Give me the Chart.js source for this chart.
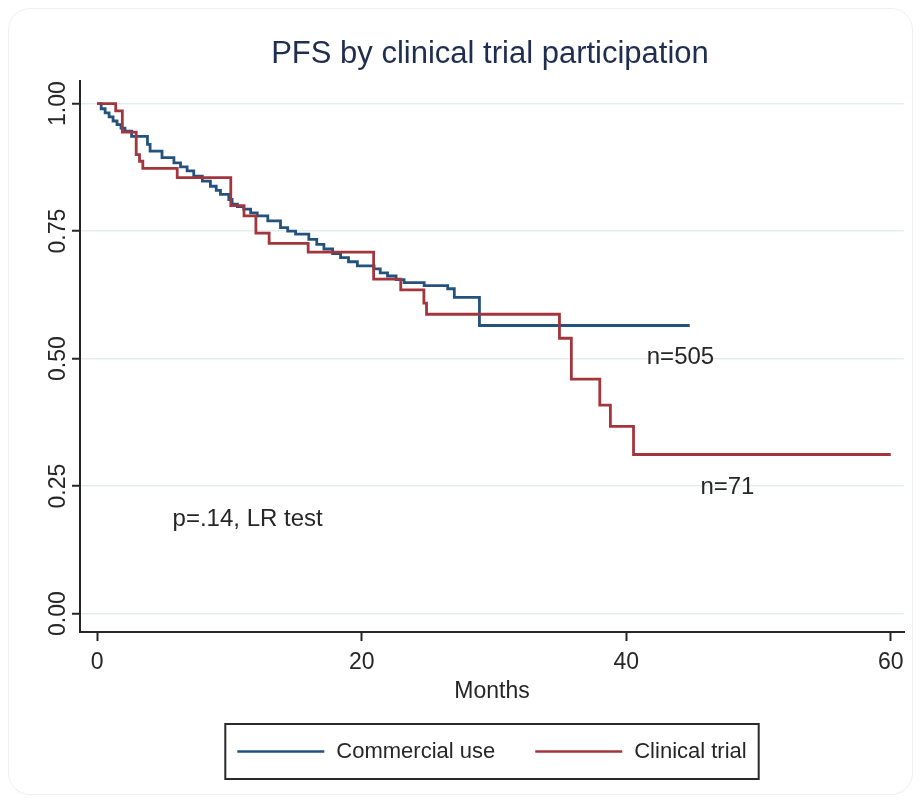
<!DOCTYPE html>
<html>
<head>
<meta charset="utf-8">
<script src="https://cdn.jsdelivr.net/npm/chart.js@4/dist/chart.umd.min.js"></script>
<style>
  html, body { margin: 0; padding: 0; background: #ffffff; }
  #wrap { position: relative; width: 921px; height: 803px; }
  #frame { position: absolute; left: 8px; top: 8px; right: 8px; bottom: 8px;
           border: 1px solid #edf1f1; border-radius: 22px; }
  canvas { position: absolute; left: 0; top: 0; }
</style>
</head>
<body>
<div id="wrap">
  <div id="frame"></div>
  <canvas id="c" width="921" height="803"></canvas>
</div>
<script>
// ---- Data (Kaplan-Meier steps: month of event, survival after event) ----
const commercialMonths = [0, 0.3, 0.6, 0.9, 1.2, 1.5, 1.8, 2.1, 2.6, 3.8, 4.0, 4.9, 5.8, 6.3, 6.8, 7.3, 7.95, 8.56, 9.0, 9.32, 9.95, 10.2, 10.6, 11.08, 11.6, 12.1, 12.9, 13.86, 14.4, 15.0, 16.0, 16.6, 17.14, 17.8, 18.4, 19.0, 19.67, 20.93, 21.4, 21.95, 22.6, 23.2, 24.72, 26.5, 27.0, 28.9, 44.8];
const commercialSurv   = [1.0, 0.99, 0.982, 0.974, 0.966, 0.959, 0.952, 0.946, 0.936, 0.92, 0.907, 0.894, 0.884, 0.876, 0.868, 0.858, 0.848, 0.838, 0.83, 0.822, 0.812, 0.803, 0.798, 0.793, 0.786, 0.78, 0.77, 0.757, 0.75, 0.744, 0.734, 0.724, 0.715, 0.706, 0.698, 0.69, 0.682, 0.676, 0.668, 0.662, 0.655, 0.649, 0.643, 0.637, 0.62, 0.565, 0.565];

const trialMonths = [0, 1.4, 1.9, 2.95, 3.2, 3.45, 6.05, 10.1, 11.1, 12.0, 13.0, 15.95, 20.9, 22.95, 24.7, 24.9, 34.95, 35.85, 38.0, 38.8, 40.55, 60];
const trialSurv   = [1.0, 0.986, 0.944, 0.9, 0.887, 0.873, 0.855, 0.8, 0.78, 0.746, 0.726, 0.709, 0.656, 0.635, 0.609, 0.587, 0.54, 0.46, 0.409, 0.367, 0.312, 0.312];

const seriesLabels = ['Commercial use', 'Clinical trial'];
const xTicks = [0, 20, 40, 60];
const yTicks = [0, 0.25, 0.5, 0.75, 1.0];
const yTickLabels = ['0.00', '0.25', '0.50', '0.75', '1.00'];

const noteTexts = ['n=505', 'n=71', 'p=.14, LR test'];
const noteX = [44.1, 47.65, 5.7];
const noteY = [0.502, 0.2475, 0.185];
const noteAlign = ['center', 'center', 'left'];

// ---- Styles ----
const FONT = "'Liberation Sans', Arial, sans-serif";
const BLUE = '#24527d';
const RED = '#a3353d';
const INK = '#262626';
const GRID = '#e3eded';

function pts(xs, ys) { return xs.map((x, i) => ({ x: x, y: ys[i] })); }

// rotated y tick labels (read bottom-to-top), placed at the scale's tick pixels
const yLabelsPlugin = {
  id: 'yLabels',
  afterDraw(chart) {
    const { ctx, scales } = chart;
    const y = scales.y;
    ctx.save();
    ctx.font = '23px ' + FONT;
    ctx.fillStyle = INK;
    ctx.textAlign = 'center';
    ctx.textBaseline = 'middle';
    y.ticks.forEach(t => {
      const py = y.getPixelForValue(t.value);
      ctx.save();
      ctx.translate(chart.chartArea.left - 21, py);
      ctx.rotate(-Math.PI / 2);
      ctx.fillText(yTickLabels[yTicks.indexOf(t.value)], 0, 0);
      ctx.restore();
    });
    ctx.restore();
  }
};

const notesPlugin = {
  id: 'notes',
  afterDatasetsDraw(chart) {
    const { ctx, scales } = chart;
    ctx.save();
    ctx.font = '24px ' + FONT;
    ctx.fillStyle = INK;
    ctx.textBaseline = 'middle';
    noteTexts.forEach((t, i) => {
      ctx.textAlign = noteAlign[i];
      ctx.fillText(t, scales.x.getPixelForValue(noteX[i]), scales.y.getPixelForValue(noteY[i]));
    });
    ctx.restore();
  }
};

const boxLegendPlugin = {
  id: 'boxLegend',
  afterDraw(chart) {
    const { ctx, chartArea } = chart;
    const ds = chart.data.datasets;
    ctx.save();
    ctx.font = '22px ' + FONT;
    const lineLen = 87, gap = 12, itemGap = 40, padX = 12;
    const widths = ds.map(d => lineLen + gap + ctx.measureText(d.label).width);
    const total = widths.reduce((a, b) => a + b, 0) + itemGap * (ds.length - 1) + padX * 2;
    const cx = (chartArea.left + chartArea.right) / 2;
    const left = cx - total / 2;
    const top = 724, h = 55;
    ctx.strokeStyle = '#2a2a2a';
    ctx.lineWidth = 2;
    ctx.strokeRect(left, top, total, h);
    let x = left + padX;
    const cy = top + h / 2;
    ds.forEach((d, i) => {
      ctx.strokeStyle = d.borderColor;
      ctx.lineWidth = 2.5;
      ctx.beginPath();
      ctx.moveTo(x, cy);
      ctx.lineTo(x + lineLen, cy);
      ctx.stroke();
      ctx.fillStyle = INK;
      ctx.textAlign = 'left';
      ctx.textBaseline = 'middle';
      ctx.fillText(d.label, x + lineLen + gap, cy);
      x += widths[i] + itemGap;
    });
    ctx.restore();
  }
};

new Chart(document.getElementById('c'), {
  type: 'line',
  data: {
    datasets: [
      { label: seriesLabels[0], data: pts(commercialMonths, commercialSurv), borderColor: BLUE,
        borderWidth: 2.8, stepped: 'before', pointRadius: 0, fill: false, order: 1 },
      { label: seriesLabels[1], data: pts(trialMonths, trialSurv), borderColor: RED,
        borderWidth: 2.8, stepped: 'before', pointRadius: 0, fill: false, order: 0 }
    ]
  },
  options: {
    responsive: false,
    animation: false,
    devicePixelRatio: 1,
    layout: { padding: { left: 76, right: 17, top: 0, bottom: 98 } },
    plugins: {
      legend: { display: false },
      tooltip: { enabled: false },
      title: {
        display: true,
        text: 'PFS by clinical trial participation',
        color: '#1f2d4f',
        font: { family: FONT, size: 31, weight: 'normal' },
        padding: { top: 36, bottom: 8 }
      }
    },
    scales: {
      x: {
        type: 'linear',
        min: -1.3,
        max: 61,
        afterBuildTicks(scale) { scale.ticks = xTicks.map(v => ({ value: v })); },
        afterFit(scale) { scale.height = 73; },
        ticks: { color: INK, font: { family: FONT, size: 23 }, padding: 8, maxRotation: 0, autoSkip: false },
        grid: { drawOnChartArea: false, drawTicks: true, tickLength: 9, tickColor: INK, tickWidth: 2 },
        border: { display: true, color: INK, width: 2 },
        title: { display: true, text: 'Months', color: INK, font: { family: FONT, size: 23 }, padding: { top: 0, bottom: 0 } }
      },
      y: {
        type: 'linear',
        min: -0.036,
        max: 1.044,
        afterBuildTicks(scale) { scale.ticks = yTicks.map(v => ({ value: v })); },
        afterFit(scale) { scale.width = 4; },
        ticks: { display: false },
        grid: { color: GRID, lineWidth: 1.5, drawTicks: true, tickLength: 8, tickColor: INK, tickWidth: 2 },
        border: { display: true, color: INK, width: 2 }
      }
    }
  },
  plugins: [yLabelsPlugin, notesPlugin, boxLegendPlugin]
});
</script>
</body>
</html>
